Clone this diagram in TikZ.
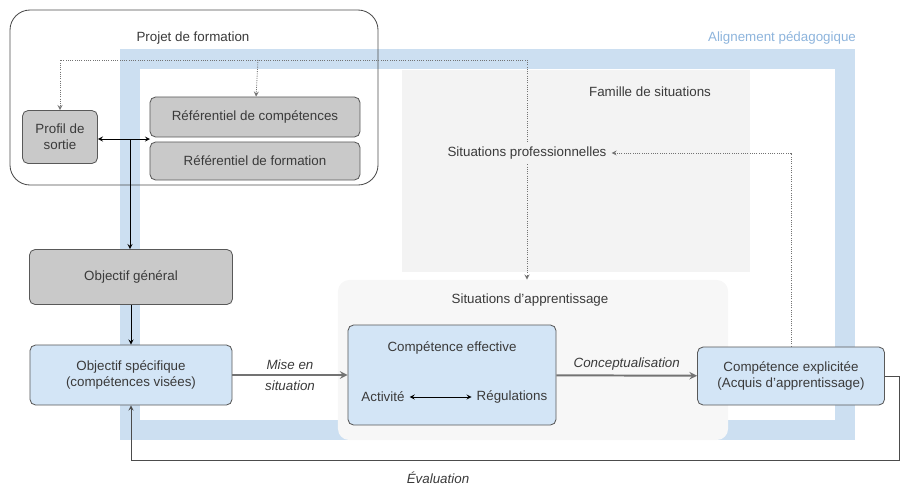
\documentclass[tikz,border=0pt]{standalone}
\usepackage{fontspec}
\setmainfont{Liberation Sans}
\usetikzlibrary{positioning}
\definecolor{bandblue}{HTML}{CCDFF1}
\definecolor{boxblue}{HTML}{D3E5F6}
\definecolor{boxgray}{HTML}{C9C9C9}
\definecolor{txt}{HTML}{3A3A3A}
\definecolor{regiongray}{HTML}{F3F3F3}
\definecolor{labelblue}{HTML}{8DB4DC}

\begin{document}
\begin{tikzpicture}[x=0.025cm,y=-0.025cm,>=stealth,semithick,font=\fontsize{9.5}{11.5}\selectfont,text=txt,
gbox/.style={draw=black!65, fill=boxgray, rounded corners=4pt, align=center, inner sep=2pt},
bbox/.style={draw=black!65, fill=boxblue, rounded corners=4pt, align=center, inner sep=2pt},
region/.style={fill=regiongray, inner sep=0pt},
dots/.style={densely dotted, draw=black!55},
flow/.style={->, line width=1.4pt, draw=black!55}]
\useasboundingbox (0,0) rectangle (901,488);
\draw[line width=0.5cm, bandblue] (130,59) rectangle (845,430);
\node[text=labelblue] (20) at (782,38) {Alignement pédagogique};
\node[region, minimum width=8.675cm, minimum height=5.05cm] (8) at (576,171) {};
\node[region, fill=regiongray!70, rounded corners=8pt, minimum width=9.75cm, minimum height=4cm] (9) at (533,360) {};
\draw[black!70, rounded corners=0.5cm] (10,10) rectangle (378,185);
\node (21) at (193,38) {Projet de formation};
\node (22) at (650,92) {Famille de situations};
\node (23) at (530,300) {Situations d'apprentissage};
\node[gbox, minimum width=1.875cm, minimum height=1.325cm] (0) at (60,137) {Profil de\\sortie};
\node[gbox, minimum width=5.25cm, minimum height=1cm] (1) at (255,117) {Référentiel de compétences};
\node[gbox, minimum width=5.25cm, minimum height=0.95cm] (2) at (255,161) {Référentiel de formation};
\node[gbox, minimum width=5.075cm, minimum height=1.375cm] (3) at (131,277) {Objectif général};
\node[bbox, minimum width=5.05cm, minimum height=1.5cm] (4) at (131,375) {Objectif spécifique\\(compétences visées)};
\node[bbox, minimum width=5.2cm, minimum height=2.5cm] (5) at (452,375) {};
\node (24) at (452,348) {Compétence effective};
\node (25) at (383,397) {Activité};
\node (26) at (512,397) {Régulations};
\node (6) at (527,153) {Situations professionnelles};
\node[bbox, minimum width=4.675cm, minimum height=1.45cm] (7) at (791,376) {Compétence explicitée\\(Acquis d'apprentissage)};
\coordinate (10) at (150,139);
\coordinate (11) at (130,139);
\draw[dots, ->, rounded corners=0pt] (6) -- (527,60) -- (60,60) -- (0);
\draw[dots, ->] (258,60) -- (1);
\draw[dots, ->] (6) -- (6 |- 9.north);
\draw[dots, ->, rounded corners=0pt] (7) -- (7 |- 6) -- (6);
\draw[<->] (0.east |- 10) -- (10);
\draw[->] (11) -- (11 |- 3.north);
\draw[->] (3) -- (4);
\draw[flow] (4) -- (5) node[midway, above] {\itshape Mise en} node[midway, below] {\itshape situation};
\draw[flow] (5) -- (7) node[midway, above] {\itshape Conceptualisation};
\draw[<->] (25) -- (26);
\draw[->, black!70, rounded corners=0pt] (7) -- (899,376) -- (899,460) -- (4.south |- 899,460) -- (4);
\node (27) at (438,478) {\itshape Évaluation};
\end{tikzpicture}
\end{document}
